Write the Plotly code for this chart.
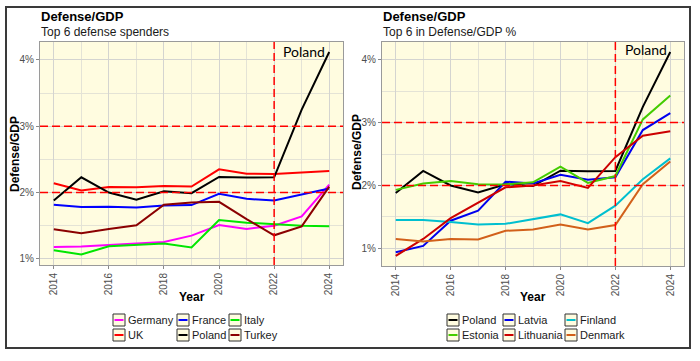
import plotly.graph_objects as go

W, H = 700, 361
years = list(range(2014, 2025))

# Left panel: top 6 defense spenders
left_names = ["Germany", "France", "Italy", "UK", "Poland", "Turkey"]
germany = [1.18, 1.185, 1.21, 1.235, 1.255, 1.35, 1.51, 1.45, 1.50, 1.64, 2.12]
france = [1.815, 1.78, 1.785, 1.775, 1.805, 1.81, 1.98, 1.905, 1.88, 1.965, 2.06]
italy = [1.13, 1.065, 1.19, 1.215, 1.23, 1.17, 1.585, 1.545, 1.52, 1.50, 1.49]
uk = [2.14, 2.03, 2.085, 2.08, 2.10, 2.09, 2.35, 2.285, 2.28, 2.30, 2.325]
poland = [1.88, 2.23, 2.0, 1.89, 2.02, 1.99, 2.235, 2.225, 2.23, 3.25, 4.12]
turkey = [1.445, 1.385, 1.45, 1.505, 1.815, 1.85, 1.86, 1.60, 1.355, 1.49, 2.09]
left_values = [germany, france, italy, uk, poland, turkey]
left_colors = ["#FF00FF", "#0000FF", "#00E600", "#FF0000", "#000000", "#8B0000"]

# Right panel: top 6 in Defense/GDP %
right_names = ["Poland", "Latvia", "Finland", "Estonia", "Lithuania", "Denmark"]
latvia = [0.94, 1.04, 1.44, 1.60, 2.06, 2.03, 2.17, 2.09, 2.13, 2.88, 3.15]
finland = [1.45, 1.45, 1.42, 1.38, 1.39, 1.46, 1.54, 1.40, 1.68, 2.10, 2.43]
estonia = [1.93, 2.03, 2.07, 2.02, 2.015, 2.05, 2.30, 2.04, 2.15, 3.05, 3.43]
lithuania = [0.88, 1.15, 1.48, 1.72, 1.97, 2.0, 2.07, 1.96, 2.45, 2.79, 2.86]
denmark = [1.15, 1.11, 1.15, 1.14, 1.28, 1.30, 1.38, 1.30, 1.37, 2.02, 2.38]
right_values = [poland, latvia, finland, estonia, lithuania, denmark]
right_colors = ["#000000", "#0000EE", "#00BFCF", "#44CC00", "#CC0000", "#D2601A"]

ref_levels = [2, 3]
ref_year = 2022


def px(x):
    return x / W


def py(y):
    return 1 - y / H


fig = go.Figure()

for names, values, colors, ax in [(left_names, left_values, left_colors, ""),
                                  (right_names, right_values, right_colors, "2")]:
    for n, v, c in zip(names, values, colors):
        fig.add_trace(go.Scatter(x=years, y=v, name=n, mode="lines",
                                 line=dict(color=c, width=2),
                                 xaxis="x" + ax, yaxis="y" + ax, showlegend=False))

bg = "#FFFCE0"
grid_major = "#D4D4D0"
grid_minor = "#E4E3D6"
tickfont = dict(family="Liberation Sans, Arial", size=10, color="#4D4D4D")

def xaxis_cfg(domain, anchor):
    return dict(domain=domain, anchor=anchor, range=[2013.5, 2024.5],
                tick0=2014, dtick=2, tickangle=-90, tickfont=tickfont,
                showgrid=True, gridcolor=grid_major, gridwidth=1,
                minor=dict(dtick=1, showgrid=True, gridcolor=grid_minor, gridwidth=1),
                ticks="outside", ticklen=3, tickcolor="#888888",
                showline=True, mirror=True, linecolor="#9A9A9A", linewidth=1,
                zeroline=False)

def yaxis_cfg(domain, anchor, rng):
    return dict(domain=domain, anchor=anchor, range=rng,
                tick0=1, dtick=1, ticksuffix="%", tickfont=tickfont,
                showgrid=True, gridcolor=grid_major, gridwidth=1,
                minor=dict(tick0=0.5, dtick=0.5, showgrid=True, gridcolor=grid_minor, gridwidth=1),
                ticks="outside", ticklen=3, tickcolor="#888888",
                showline=True, mirror=True, linecolor="#9A9A9A", linewidth=1,
                zeroline=False)

L = dict(x0=40, x1=343, y0=42, y1=265)
R = dict(x0=382, x1=684, y0=42, y1=266)

fig.update_layout(
    width=W, height=H,
    margin=dict(l=0, r=0, t=0, b=0),
    paper_bgcolor="white", plot_bgcolor=bg,
    showlegend=False,
    font=dict(family="Liberation Sans, Arial", color="#1A1A1A"),
    xaxis=xaxis_cfg([px(L["x0"]), px(L["x1"])], "y"),
    yaxis=yaxis_cfg([py(L["y1"]), py(L["y0"])], "x", [0.907, 4.27]),
    xaxis2=xaxis_cfg([px(R["x0"]), px(R["x1"])], "y2"),
    yaxis2=yaxis_cfg([py(R["y1"]), py(R["y0"])], "x2", [0.72, 4.28]),
)

shapes = []
for ax in ["", "2"]:
    for lv in ref_levels:
        shapes.append(dict(type="line", xref="x" + ax + " domain", yref="y" + ax,
                           x0=0, x1=1, y0=lv, y1=lv, layer="above",
                           line=dict(color="#FF0000", width=1.5, dash="8px,4px")))
    shapes.append(dict(type="line", xref="x" + ax, yref="y" + ax + " domain",
                       x0=ref_year, x1=ref_year, y0=0, y1=1, layer="above",
                       line=dict(color="#FF0000", width=1.5, dash="8px,4px")))

# outer frame
shapes.append(dict(type="rect", xref="paper", yref="paper",
                   x0=px(6), x1=px(690), y0=py(348), y1=py(7),
                   line=dict(color="#3A3A3A", width=2)))

annotations = []
for p, title, sub in [(L, "Defense/GDP", "Top 6 defense spenders"),
                      (R, "Defense/GDP", "Top 6 in Defense/GDP %")]:
    annotations.append(dict(text="<b>" + title + "</b>", xref="paper", yref="paper",
                            x=px(p["x0"] - 1), y=py(16), xanchor="left", yanchor="middle",
                            showarrow=False, font=dict(size=13, color="#000000")))
    annotations.append(dict(text=sub, xref="paper", yref="paper",
                            x=px(p["x0"] - 1), y=py(32), xanchor="left", yanchor="middle",
                            showarrow=False, font=dict(size=12, color="#1A1A1A")))
    annotations.append(dict(text="<b>Year</b>", xref="paper", yref="paper",
                            x=px((p["x0"] + p["x1"]) / 2), y=py(297), xanchor="center",
                            yanchor="middle", showarrow=False,
                            font=dict(size=12, color="#000000")))

annotations.append(dict(text="<b>Defense/GDP</b>", xref="paper", yref="paper",
                        x=px(15), y=py(154), textangle=-90, xanchor="center",
                        yanchor="middle", showarrow=False,
                        font=dict(size=12, color="#000000")))
annotations.append(dict(text="<b>Defense/GDP</b>", xref="paper", yref="paper",
                        x=px(357), y=py(152), textangle=-90, xanchor="center",
                        yanchor="middle", showarrow=False,
                        font=dict(size=12, color="#000000")))

for ax, yv in [("", 4.13), ("2", 4.16)]:
    annotations.append(dict(text="Poland", xref="x" + ax, yref="y" + ax,
                            x=2023.1, y=yv, xanchor="center", yanchor="middle",
                            showarrow=False,
                            font=dict(family="Lato, Open Sans", size=14, color="#000000")))

# manual legends (key boxes + labels)
def add_legend(names, colors, col_x, row_y):
    for i, (n, c) in enumerate(zip(names, colors)):
        cx = col_x[i % 3]
        cy = row_y[i // 3]
        shapes.append(dict(type="rect", xref="paper", yref="paper",
                           x0=px(cx), x1=px(cx + 12), y0=py(cy + 6), y1=py(cy - 6),
                           fillcolor=bg, line=dict(color="#333333", width=1)))
        shapes.append(dict(type="line", xref="paper", yref="paper",
                           x0=px(cx + 1.5), x1=px(cx + 10.5), y0=py(cy), y1=py(cy),
                           line=dict(color=c, width=2)))
        annotations.append(dict(text=n, xref="paper", yref="paper",
                                x=px(cx + 13), y=py(cy), xanchor="left", yanchor="middle",
                                showarrow=False, font=dict(size=11, color="#1A1A1A")))

add_legend(left_names, left_colors, [113, 177, 229], [320, 335])
add_legend(right_names, right_colors, [447, 503, 565], [320, 335])

fig.update_layout(shapes=shapes, annotations=annotations)
fig.write_html("out.html", config={"displayModeBar": False},
               post_script="document.body.style.margin='0';document.body.style.padding='0';")
